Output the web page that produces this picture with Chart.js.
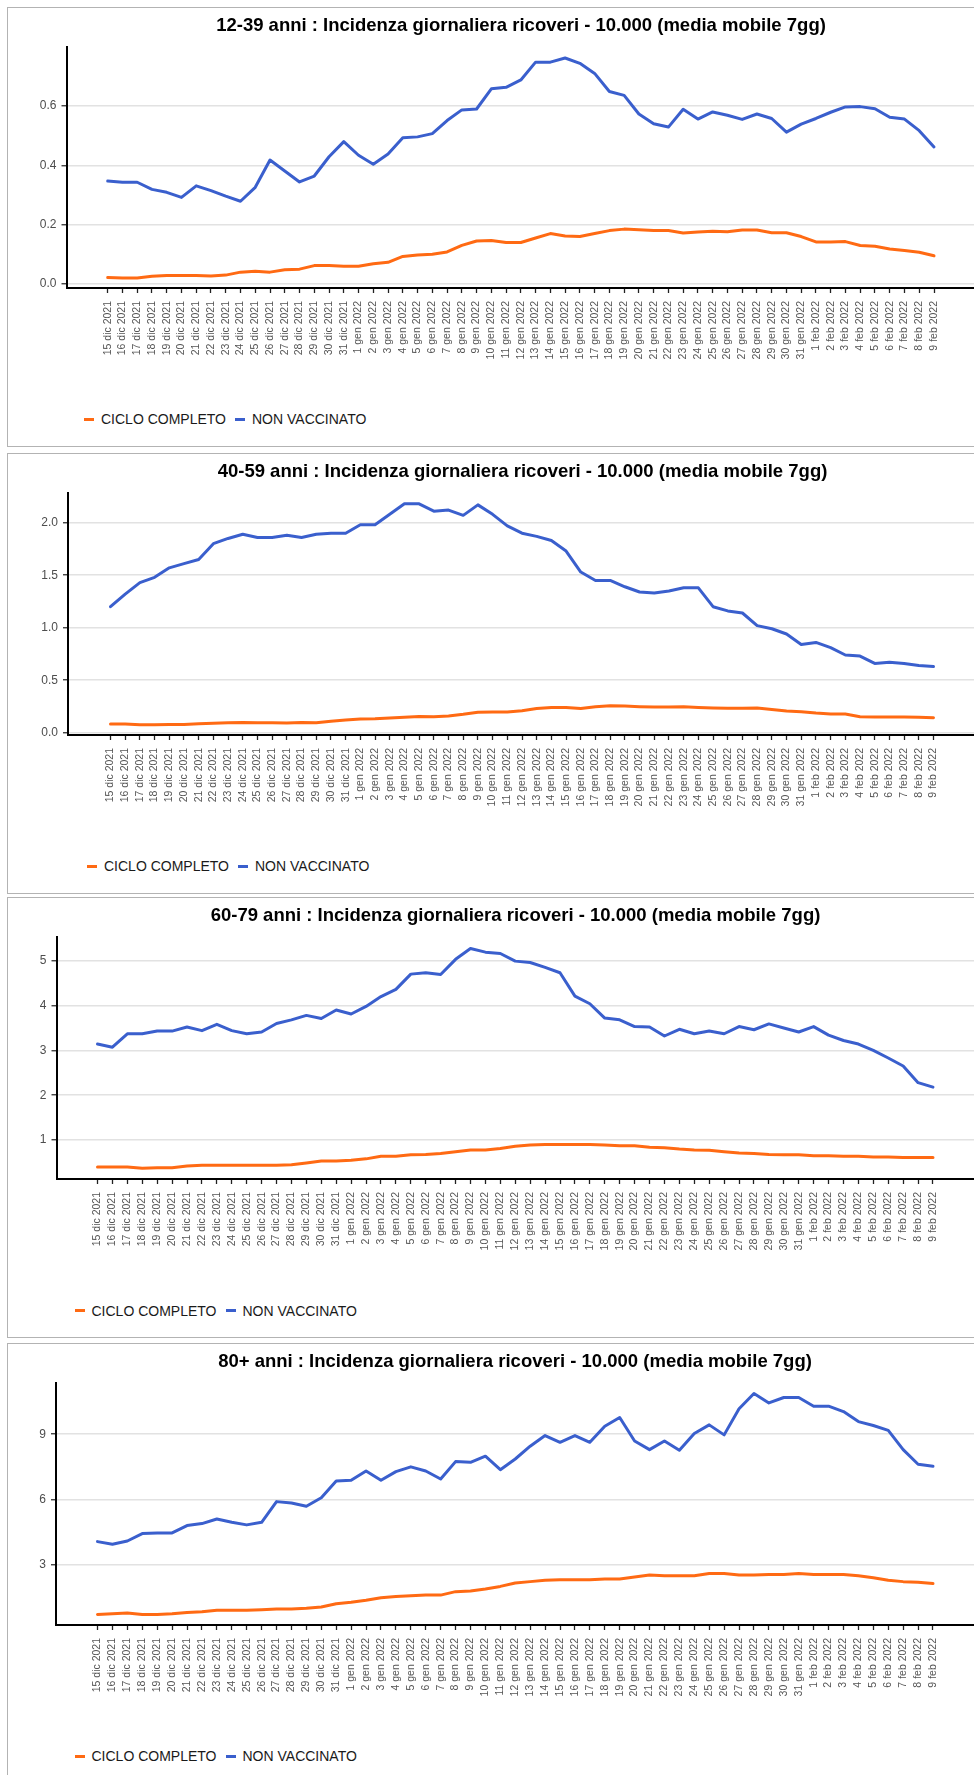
<!DOCTYPE html>
<html lang="it">
<head>
<meta charset="utf-8">
<title>Incidenza giornaliera ricoveri</title>
<script src="https://cdn.jsdelivr.net/npm/chart.js@4.4.1/dist/chart.umd.min.js"></script>
<style>
  html, body { margin: 0; padding: 0; background: #fff; overflow: hidden; }
  body { width: 974px; height: 1775px; position: relative; font-family: "Liberation Sans", Arial, sans-serif; }
  .panel { position: absolute; left: 7px; width: 1100px; border: 1.5px solid #b3b3b3; box-sizing: border-box; }
  .chart { position: absolute; left: 0; }
  .legend { position: absolute; display: flex; align-items: center; font-size: 14px; color: #1a1a1a; white-space: nowrap; transform: translateY(-50%); }
  .legend .item { display: flex; align-items: center; margin-right: 9px; }
  .legend .key { display: inline-block; width: 10px; height: 3px; margin-right: 7px; }
</style>
</head>
<body>
<script>
const dates = [
  "15 dic 2021", "16 dic 2021", "17 dic 2021", "18 dic 2021", "19 dic 2021", "20 dic 2021", "21 dic 2021",
  "22 dic 2021", "23 dic 2021", "24 dic 2021", "25 dic 2021", "26 dic 2021", "27 dic 2021", "28 dic 2021",
  "29 dic 2021", "30 dic 2021", "31 dic 2021",
  "1 gen 2022", "2 gen 2022", "3 gen 2022", "4 gen 2022", "5 gen 2022", "6 gen 2022", "7 gen 2022",
  "8 gen 2022", "9 gen 2022", "10 gen 2022", "11 gen 2022", "12 gen 2022", "13 gen 2022", "14 gen 2022",
  "15 gen 2022", "16 gen 2022", "17 gen 2022", "18 gen 2022", "19 gen 2022", "20 gen 2022", "21 gen 2022",
  "22 gen 2022", "23 gen 2022", "24 gen 2022", "25 gen 2022", "26 gen 2022", "27 gen 2022", "28 gen 2022",
  "29 gen 2022", "30 gen 2022", "31 gen 2022",
  "1 feb 2022", "2 feb 2022", "3 feb 2022", "4 feb 2022", "5 feb 2022", "6 feb 2022", "7 feb 2022",
  "8 feb 2022", "9 feb 2022"
];

// 12-39 anni
const ticks12_39 = [0, 0.2, 0.4, 0.6];
const completo12_39 = [0.022, 0.020, 0.020, 0.026, 0.029, 0.029, 0.029, 0.027, 0.030, 0.040,
  0.043, 0.040, 0.048, 0.050, 0.062, 0.062, 0.060, 0.060, 0.068, 0.073,
  0.093, 0.098, 0.100, 0.108, 0.130, 0.145, 0.147, 0.140, 0.140, 0.155,
  0.170, 0.162, 0.160, 0.170, 0.180, 0.185, 0.183, 0.180, 0.180, 0.172,
  0.175, 0.178, 0.176, 0.182, 0.182, 0.173, 0.173, 0.160, 0.142, 0.142,
  0.143, 0.130, 0.127, 0.118, 0.113, 0.107, 0.095];
const nonVacc12_39 = [0.347, 0.343, 0.343, 0.319, 0.309, 0.292, 0.331, 0.315, 0.296, 0.279,
  0.326, 0.418, 0.381, 0.344, 0.364, 0.429, 0.480, 0.434, 0.404, 0.438,
  0.493, 0.496, 0.507, 0.551, 0.587, 0.590, 0.658, 0.663, 0.688, 0.748,
  0.748, 0.762, 0.744, 0.710, 0.649, 0.636, 0.573, 0.540, 0.529, 0.589,
  0.556, 0.580, 0.569, 0.555, 0.573, 0.558, 0.512, 0.539, 0.558, 0.579,
  0.597, 0.598, 0.591, 0.562, 0.556, 0.517, 0.462];

// 40-59 anni
const ticks40_59 = [0, 0.5, 1, 1.5, 2];
const completo40_59 = [0.083, 0.083, 0.076, 0.076, 0.079, 0.079, 0.086, 0.089, 0.095, 0.098,
  0.095, 0.095, 0.092, 0.098, 0.095, 0.110, 0.120, 0.130, 0.133, 0.140,
  0.146, 0.155, 0.152, 0.160, 0.175, 0.194, 0.197, 0.197, 0.210, 0.230,
  0.240, 0.240, 0.230, 0.248, 0.257, 0.254, 0.248, 0.244, 0.244, 0.248,
  0.241, 0.235, 0.232, 0.232, 0.235, 0.222, 0.206, 0.200, 0.187, 0.178,
  0.178, 0.152, 0.149, 0.149, 0.149, 0.146, 0.143];
const nonVacc40_59 = [1.20, 1.32, 1.43, 1.48, 1.57, 1.61, 1.65, 1.80, 1.85, 1.89,
  1.86, 1.86, 1.88, 1.86, 1.89, 1.90, 1.90, 1.98, 1.98, 2.08,
  2.18, 2.18, 2.11, 2.12, 2.07, 2.17, 2.08, 1.97, 1.90, 1.87,
  1.83, 1.73, 1.53, 1.45, 1.45, 1.39, 1.34, 1.33, 1.35, 1.38,
  1.38, 1.20, 1.16, 1.14, 1.02, 0.99, 0.94, 0.84, 0.86, 0.81,
  0.74, 0.73, 0.66, 0.67, 0.66, 0.64, 0.63];

// 60-79 anni
const ticks60_79 = [1, 2, 3, 4, 5];
const completo60_79 = [0.40, 0.40, 0.40, 0.37, 0.38, 0.38, 0.42, 0.44, 0.44, 0.44,
  0.44, 0.44, 0.44, 0.45, 0.49, 0.53, 0.53, 0.55, 0.58, 0.64,
  0.64, 0.67, 0.68, 0.70, 0.74, 0.78, 0.78, 0.81, 0.86, 0.89,
  0.90, 0.90, 0.90, 0.90, 0.89, 0.87, 0.87, 0.84, 0.83, 0.80,
  0.78, 0.77, 0.74, 0.71, 0.70, 0.68, 0.67, 0.67, 0.65, 0.65,
  0.64, 0.64, 0.62, 0.62, 0.61, 0.61, 0.61];
const nonVacc60_79 = [3.14, 3.07, 3.37, 3.37, 3.43, 3.43, 3.52, 3.44, 3.58, 3.44,
  3.37, 3.41, 3.60, 3.68, 3.78, 3.71, 3.90, 3.81, 3.98, 4.20,
  4.36, 4.70, 4.73, 4.69, 5.03, 5.27, 5.19, 5.16, 4.99, 4.96,
  4.85, 4.73, 4.21, 4.04, 3.72, 3.68, 3.53, 3.52, 3.32, 3.47,
  3.37, 3.43, 3.37, 3.53, 3.46, 3.59, 3.50, 3.41, 3.53, 3.34,
  3.22, 3.14, 3.00, 2.83, 2.65, 2.28, 2.18];

// 80+ anni
const ticks80 = [3, 6, 9];
const completo80 = [0.71, 0.74, 0.78, 0.71, 0.71, 0.74, 0.80, 0.83, 0.90, 0.90,
  0.90, 0.93, 0.96, 0.96, 0.99, 1.05, 1.20, 1.27, 1.36, 1.48,
  1.54, 1.57, 1.60, 1.60, 1.76, 1.79, 1.88, 2.00, 2.16, 2.22,
  2.28, 2.31, 2.31, 2.31, 2.34, 2.34, 2.43, 2.52, 2.49, 2.49,
  2.49, 2.59, 2.59, 2.52, 2.52, 2.55, 2.55, 2.59, 2.55, 2.55,
  2.55, 2.49, 2.40, 2.28, 2.22, 2.19, 2.13];
const nonVacc80 = [4.06, 3.94, 4.09, 4.43, 4.46, 4.46, 4.80, 4.89, 5.10, 4.95,
  4.83, 4.95, 5.90, 5.84, 5.69, 6.08, 6.85, 6.88, 7.31, 6.88,
  7.28, 7.50, 7.31, 6.94, 7.74, 7.71, 7.99, 7.37, 7.86, 8.45,
  8.94, 8.63, 8.94, 8.63, 9.37, 9.77, 8.69, 8.29, 8.69, 8.26,
  9.03, 9.43, 8.97, 10.17, 10.87, 10.44, 10.69, 10.69, 10.29, 10.29,
  10.04, 9.58, 9.40, 9.18, 8.29, 7.62, 7.53];

const COLOR_COMPLETO = "#ff6a13";
const COLOR_NON_VACC = "#3a5fcd";
const TITLE_SIZE = 18.5;
const X_AXIS_HEIGHT = 80;

Chart.defaults.font.family = '"Liberation Sans", Arial, Helvetica, sans-serif';

// layout of each box, in page pixels
const panels = [
  { title: "12-39 anni : Incidenza giornaliera ricoveri - 10.000 (media mobile 7gg)",
    completo: completo12_39, nonVacc: nonVacc12_39, yTicks: ticks12_39, decimals: 1, yMin: -0.0135, yMax: 0.799,
    top: 7, height: 440, axisX: 66.5, plotTop: 47, plotBottom: 288, titleY: 26, titleX: 521,
    legendX: 84, legendY: 419, firstTick: 107.7, lastTick: 934 },
  { title: "40-59 anni : Incidenza giornaliera ricoveri - 10.000 (media mobile 7gg)",
    completo: completo40_59, nonVacc: nonVacc40_59, yTicks: ticks40_59, decimals: 1, yMin: -0.022, yMax: 2.283,
    top: 453, height: 441, axisX: 68, plotTop: 493, plotBottom: 735, titleY: 472, titleX: 522.5,
    legendX: 87, legendY: 866, firstTick: 110.5, lastTick: 933.5 },
  { title: "60-79 anni : Incidenza giornaliera ricoveri - 10.000 (media mobile 7gg)",
    completo: completo60_79, nonVacc: nonVacc60_79, yTicks: ticks60_79, decimals: 0, yMin: 0.131, yMax: 5.528,
    top: 897, height: 441, axisX: 56.5, plotTop: 937, plotBottom: 1179.3, titleY: 916, titleX: 515.5,
    legendX: 74.5, legendY: 1310.7, firstTick: 97.5, lastTick: 933 },
  { title: "80+ anni : Incidenza giornaliera ricoveri - 10.000 (media mobile 7gg)",
    completo: completo80, nonVacc: nonVacc80, yTicks: ticks80, decimals: 0, yMin: 0.225, yMax: 11.37,
    top: 1343, height: 500, axisX: 56, plotTop: 1382.7, plotBottom: 1625, titleY: 1361.7, titleX: 515,
    legendX: 74.5, legendY: 1756, firstTick: 97.5, lastTick: 933 }
];

function lineDataset(label, values, color) {
  return {
    label: label,
    data: values.map((v, i) => ({ x: i, y: v })),
    borderColor: color,
    backgroundColor: color,
    borderWidth: 3,
    pointRadius: 0,
    tension: 0,
    borderJoinStyle: "round",
    borderCapStyle: "round"
  };
}

function makeLegend(p) {
  const legend = document.createElement("div");
  legend.className = "legend";
  legend.style.left = p.legendX + "px";
  legend.style.top = p.legendY + "px";
  [["CICLO COMPLETO", COLOR_COMPLETO], ["NON VACCINATO", COLOR_NON_VACC]].forEach(([text, color]) => {
    const item = document.createElement("span");
    item.className = "item";
    const key = document.createElement("span");
    key.className = "key";
    key.style.background = color;
    item.appendChild(key);
    item.appendChild(document.createTextNode(text));
    legend.appendChild(item);
  });
  document.body.appendChild(legend);
}

function makePanel(p) {
  const box = document.createElement("div");
  box.className = "panel";
  box.style.top = p.top + "px";
  box.style.height = p.height + "px";
  document.body.appendChild(box);

  // title is centred on the canvas, so the canvas is twice the title centre wide
  const width = Math.round(p.titleX * 2);
  const height = Math.round(p.plotBottom - p.top + X_AXIS_HEIGHT);
  const canvas = document.createElement("canvas");
  canvas.className = "chart";
  canvas.width = width;
  canvas.height = height;
  canvas.style.top = p.top + "px";
  canvas.style.width = width + "px";
  canvas.style.height = height + "px";
  document.body.appendChild(canvas);

  const step = (p.lastTick - p.firstTick) / (dates.length - 1);
  const xMin = -(p.firstTick - p.axisX) / step;
  const xMax = dates.length - 1 + (width - p.lastTick) / step;
  const titleLine = TITLE_SIZE * 1.2;

  new Chart(canvas, {
    type: "line",
    data: {
      datasets: [
        lineDataset("CICLO COMPLETO", p.completo, COLOR_COMPLETO),
        lineDataset("NON VACCINATO", p.nonVacc, COLOR_NON_VACC)
      ]
    },
    options: {
      responsive: false,
      animation: false,
      layout: { padding: 0 },
      plugins: {
        legend: { display: false },
        tooltip: { enabled: false },
        title: {
          display: true,
          text: p.title,
          color: "#000",
          font: { size: TITLE_SIZE, weight: "bold" },
          padding: { top: p.titleY - p.top - titleLine / 2, bottom: p.plotTop - p.titleY - titleLine / 2 }
        }
      },
      scales: {
        x: {
          type: "linear",
          min: xMin,
          max: xMax,
          afterBuildTicks: scale => { scale.ticks = dates.map((d, i) => ({ value: i })); },
          afterFit: scale => { scale.height = X_AXIS_HEIGHT; },
          ticks: {
            autoSkip: false,
            minRotation: 90,
            maxRotation: 90,
            padding: 8,
            color: "#555",
            font: { size: 10.5 },
            callback: v => dates[v]
          },
          grid: { drawOnChartArea: false, drawTicks: true, tickLength: 5, tickColor: "#222", tickWidth: 1.3 },
          border: { display: true, color: "#000", width: 2 }
        },
        y: {
          min: p.yMin,
          max: p.yMax,
          afterBuildTicks: scale => { scale.ticks = p.yTicks.map(v => ({ value: v })); },
          afterFit: scale => { scale.width = p.axisX; },
          ticks: {
            padding: 5,
            color: "#4d4d4d",
            font: { size: 12 },
            callback: v => v.toFixed(p.decimals)
          },
          grid: { color: "#e2e2e2", lineWidth: 1.5, tickLength: 5, tickColor: "#333", tickWidth: 1.3 },
          border: { display: true, color: "#000", width: 2 }
        }
      }
    }
  });

  makeLegend(p);
}

panels.forEach(makePanel);
</script>
</body>
</html>
